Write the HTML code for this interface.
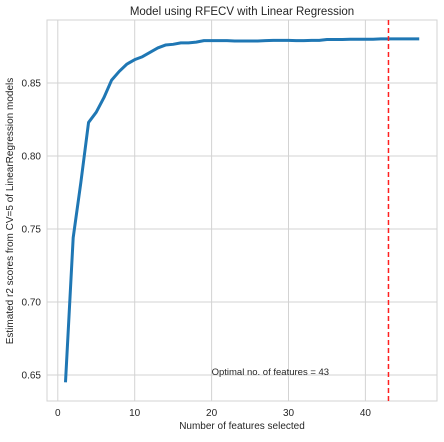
<!DOCTYPE html>
<html><head><meta charset="utf-8"><style>
body{margin:0;background:#fff;}
svg text{font-family:"Liberation Sans",Arial,sans-serif;fill:#262626;}
</style></head><body>
<svg id="c" width="444" height="437" xmlns="http://www.w3.org/2000/svg"></svg>
<script>
const xTicks=[0,10,20,30,40];
const yTicks=[0.65,0.70,0.75,0.80,0.85];
const nFeatures=[1,2,3,4,5,6,7,8,9,10,11,12,13,14,15,16,17,18,19,20,21,22,23,24,25,26,27,28,29,30,31,32,33,34,35,36,37,38,39,40,41,42,43,44,45,46,47];
const scores=[0.645,0.744,0.782,0.823,0.830,0.840,0.852,0.858,0.863,0.866,0.868,0.871,0.874,0.876,0.8765,0.8775,0.8775,0.878,0.879,0.879,0.879,0.879,0.8788,0.8788,0.8788,0.8788,0.879,0.8792,0.8792,0.8792,0.879,0.879,0.8792,0.8792,0.8798,0.8798,0.8798,0.88,0.88,0.88,0.88,0.8802,0.8802,0.8802,0.8802,0.8802,0.8802];
const optimal=[43];
const L=47,R=437,T=20,B=401;
const X=v=>57.8+v*7.69;
const Y=v=>83-(v-0.85)*1460;
const svg=document.getElementById('c');const NS='http://www.w3.org/2000/svg';
function mk(t,a,txt){const e=document.createElementNS(NS,t);for(const k in a)e.setAttribute(k,a[k]);if(txt!=null)e.textContent=txt;svg.appendChild(e);return e;}
xTicks.forEach(v=>{
 const g=mk('line',{x1:X(v),x2:X(v),y1:T,y2:B,stroke:'#d3d3d3','stroke-width':1});
 
 
 const t=mk('text',{x:X(v),y:B+15,'font-size':10,'text-anchor':'middle'},String(v));
 
 
});
yTicks.forEach(v=>{
 const g=mk('line',{x1:L,x2:R,y1:Y(v),y2:Y(v),stroke:'#d3d3d3','stroke-width':1});
 
 
 const t=mk('text',{x:L-6,y:Y(v)+3.5,'font-size':10,'text-anchor':'end'},v.toFixed(2));
 
 
});
const fr=mk('rect',{x:L,y:T,width:R-L,height:B-T,fill:'none',stroke:'#d3d3d3','stroke-width':1});


const pts=nFeatures.map((n,i)=>X(n)+','+Y(scores[i])).join(' ');
const ln=mk('polyline',{points:pts,fill:'none',stroke:'#1f77b4','stroke-width':3,'stroke-linejoin':'round'});


const vl=mk('line',{x1:X(optimal[0]),x2:X(optimal[0]),y1:T,y2:B,stroke:'#ff2020','stroke-width':1.5,'stroke-dasharray':'5,3'});


const an=mk('text',{x:X(20),y:375,'font-size':9.5},'Optimal no. of features = '+optimal[0]);


const ti=mk('text',{x:242,y:15,'font-size':11.5,'text-anchor':'middle'},'Model using RFECV with Linear Regression');


const xl=mk('text',{x:242,y:429,'font-size':10,'text-anchor':'middle'},'Number of features selected');


const yl=mk('text',{x:0,y:0,'font-size':10,'text-anchor':'middle',transform:'translate(13,211) rotate(-90)'},'Estimated r2 scores from CV=5 of LinearRegression models');


</script>
</body></html>
